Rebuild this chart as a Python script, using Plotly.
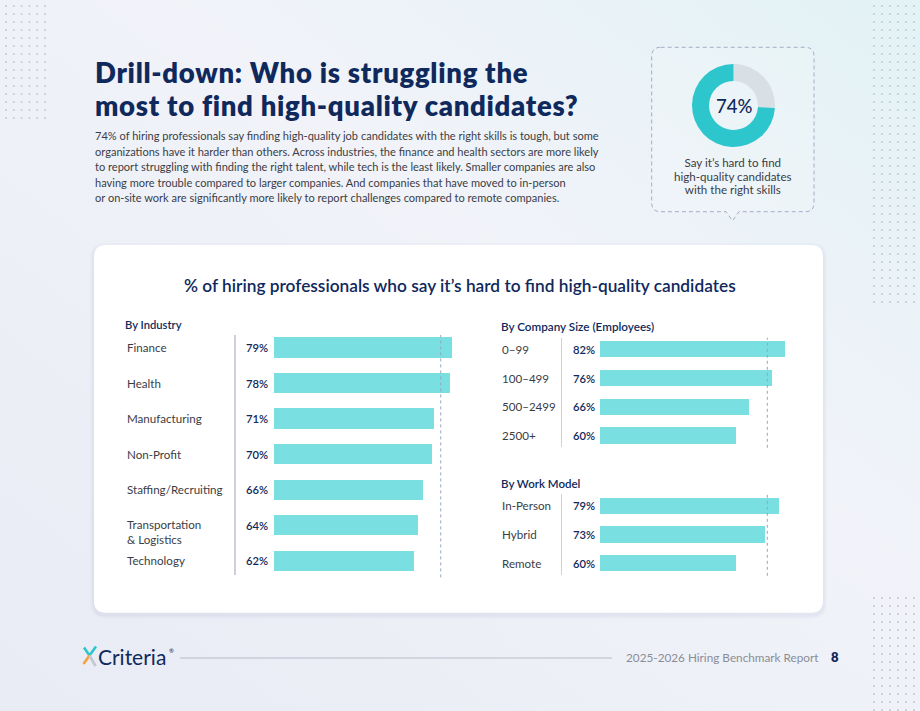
import base64
import plotly.graph_objects as go

W, H = 920, 711

# ---------------- data ----------------
industry_labels = ["Finance", "Health", "Manufacturing", "Non-Profit",
                   "Staffing/Recruiting", "Transportation<br>& Logistics", "Technology"]
industry_values = [79, 78, 71, 70, 66, 64, 62]

size_labels = ["0–99", "100–499", "500–2499", "2500+"]
size_values = [82, 76, 66, 60]

work_labels = ["In-Person", "Hybrid", "Remote"]
work_values = [79, 73, 60]

overall_value = 74
donut_labels = ["Other", "Say it's hard"]
donut_values = [26, 74]

title_lines = ["Drill-down: Who is struggling the",
               "most to find high-quality candidates?"]
para_lines = [
    "74% of hiring professionals say finding high-quality job candidates with the right skills is tough, but some",
    "organizations have it harder than others. Across industries, the finance and health sectors are more likely",
    "to report struggling with finding the right talent, while tech is the least likely. Smaller companies are also",
    "having more trouble compared to larger companies. And companies that have moved to in-person",
    "or on-site work are significantly more likely to report challenges compared to remote companies.",
]
donut_caption = ["Say it’s hard to find", "high-quality candidates", "with the right skills"]
chart_title = "% of hiring professionals who say it’s hard to find high-quality candidates"
footer_text = "2025-2026 Hiring Benchmark Report"
page_number = "8"

# ---------------- style ----------------
NAVY = "#10295c"
BODY = "#3b3d45"
BAR = "#79dfe1"
TEAL = "#2ec6cd"
DONUT_GRAY = "#d8dfe5"
AXIS_LINE = "#cdd1db"
DASH = "#98a5c4"
FONT = "Lato"

K = 2.257  # px per percentage point


def px(x):
    return x / W


def py(y):
    return 1 - y / H


def rounded_rect_path(x0, y0, x1, y1, r):
    rx, ry = r / W, r / H
    X0, X1 = px(x0), px(x1)
    Y0, Y1 = py(y0), py(y1)
    return (f"M {X0+rx},{Y0} L {X1-rx},{Y0} Q {X1},{Y0} {X1},{Y0-ry} "
            f"L {X1},{Y1+ry} Q {X1},{Y1} {X1-rx},{Y1} "
            f"L {X0+rx},{Y1} Q {X0},{Y1} {X0},{Y1+ry} "
            f"L {X0},{Y0-ry} Q {X0},{Y0} {X0+rx},{Y0} Z")


def callout_path(x0, y0, x1, y1, r, cx, pw, ph):
    rx, ry = r / W, r / H
    X0, X1 = px(x0), px(x1)
    Y0, Y1 = py(y0), py(y1)
    return (f"M {X0+rx},{Y0} L {X1-rx},{Y0} Q {X1},{Y0} {X1},{Y0-ry} "
            f"L {X1},{Y1+ry} Q {X1},{Y1} {X1-rx},{Y1} "
            f"L {px(cx+pw/2)},{Y1} L {px(cx)},{py(y1+ph)} L {px(cx-pw/2)},{Y1} "
            f"L {X0+rx},{Y1} Q {X0},{Y1} {X0},{Y1+ry} "
            f"L {X0},{Y0-ry} Q {X0},{Y0} {X0+rx},{Y0} Z")


fig = go.Figure()

# ---------------- bars ----------------
for xs, ys, xa, ya in [(industry_values, industry_labels, "x", "y"),
                       (size_values, size_labels, "x2", "y2"),
                       (work_values, work_labels, "x3", "y3")]:
    fig.add_trace(go.Bar(x=xs, y=ys, orientation="h", xaxis=xa, yaxis=ya, width=0.57,
                         marker=dict(color=BAR, line=dict(width=0)),
                         hoverinfo="skip", showlegend=False))

# ---------------- donut ----------------
fig.add_trace(go.Pie(values=donut_values, labels=donut_labels, hole=0.59, sort=False,
                     direction="clockwise", rotation=0,
                     marker=dict(colors=[DONUT_GRAY, TEAL], line=dict(width=0)),
                     textinfo="none", hoverinfo="skip", showlegend=False,
                     domain=dict(x=[px(692), px(775)], y=[py(147), py(64)])))

# ---------------- decorative dot grids ----------------
dx, dy = [], []
for c in range(6):
    for r in range(15):
        dx.append(6 + 7.8 * c); dy.append(6 + 8 * r)
for c in range(6):
    for r in range(38):
        dx.append(874 + 8 * c); dy.append(6 + 8 * r)
    for r in range(15):
        dx.append(874 + 8 * c); dy.append(598 + 8 * r)
fig.add_trace(go.Scatter(x=dx, y=dy, mode="markers", xaxis="x4", yaxis="y4",
                         marker=dict(size=2, symbol="square", color="#cfd3dd"),
                         hoverinfo="skip", showlegend=False))

# ---------------- axes ----------------
LEFT_AX, LEFT_BAR = 235.7, 273.7
RIGHT_AX, RIGHT_BAR = 562.3, 600.3
xmin_l = -(LEFT_BAR - LEFT_AX) / K
xmin_r = -(RIGHT_BAR - RIGHT_AX) / K

ycommon = dict(showline=True, linecolor=AXIS_LINE, linewidth=1.5, showticklabels=False,
               showgrid=False, zeroline=False, ticks="", fixedrange=True)

fig.update_layout(
    xaxis=dict(domain=[px(LEFT_AX), px(LEFT_BAR + 90 * K)], range=[xmin_l, 90],
               visible=False, anchor="y", fixedrange=True),
    yaxis=dict(domain=[py(575), py(335)], range=[6.402, -0.352], anchor="x",
               categoryorder="array", categoryarray=industry_labels, **ycommon),
    xaxis2=dict(domain=[px(RIGHT_AX), px(RIGHT_BAR + 95 * K)], range=[xmin_r, 95],
                visible=False, anchor="y2", fixedrange=True),
    yaxis2=dict(domain=[py(446.7), py(337.7)], range=[3.382, -0.399], anchor="x2",
                categoryorder="array", categoryarray=size_labels, **ycommon),
    xaxis3=dict(domain=[px(RIGHT_AX), px(RIGHT_BAR + 95 * K)], range=[xmin_r, 95],
                visible=False, anchor="y3", fixedrange=True),
    yaxis3=dict(domain=[py(575), py(494.3)], range=[2.407, -0.4], anchor="x3",
                categoryorder="array", categoryarray=work_labels, **ycommon),
    xaxis4=dict(domain=[0, 1], range=[0, W], visible=False, anchor="y4", fixedrange=True),
    yaxis4=dict(domain=[0, 1], range=[H, 0], visible=False, anchor="x4", fixedrange=True),
)

# ---------------- shapes ----------------
shapes = []
for grow, alpha in [(4, 0.025), (2, 0.035)]:
    shapes.append(dict(type="path", xref="paper", yref="paper", layer="below",
                       path=rounded_rect_path(94 - grow, 245 - grow + 2, 823 + grow, 612.7 + grow + 2, 12 + grow),
                       fillcolor=f"rgba(40,50,100,{alpha})", line=dict(width=0)))
shapes.append(dict(type="path", xref="paper", yref="paper", layer="below",
                   path=rounded_rect_path(94, 245, 823, 612.7, 12),
                   fillcolor="#ffffff", line=dict(width=0)))
shapes.append(dict(type="path", xref="paper", yref="paper", layer="below",
                   path=callout_path(651.7, 47.3, 814, 211.7, 9, 732.5, 13, 9),
                   fillcolor="rgba(255,255,255,0.15)",
                   line=dict(color="#a3adc6", width=1, dash="4px,3px")))
for xr, yr in [("x", "y domain"), ("x2", "y2 domain"), ("x3", "y3 domain")]:
    shapes.append(dict(type="line", xref=xr, yref=yr, x0=overall_value, x1=overall_value,
                       y0=-0.01, y1=1.0, layer="above",
                       line=dict(color=DASH, width=1, dash="3px,3px")))
shapes.append(dict(type="line", xref="paper", yref="paper", x0=px(180), x1=px(612),
                   y0=py(658), y1=py(658), line=dict(color="#b7bbc6", width=1)))
logo_strokes = [
    ((84, 647.5), (89.5, 655.5), "#2ec6cd"),
    ((89.5, 655.5), (96, 646.5), "#2ec6cd"),
    ((89.5, 655.5), (83.5, 664), "#f5a03a"),
    ((89.5, 655.5), (95.5, 666), "#c3c7cf"),
]
for (x0, y0), (x1, y1), col in logo_strokes:
    shapes.append(dict(type="line", xref="paper", yref="paper", x0=px(x0), y0=py(y0),
                       x1=px(x1), y1=py(y1), line=dict(color=col, width=2.6)))
fig.update_layout(shapes=shapes)

# ---------------- annotations ----------------
ann = []


def text(x, y, s, size, color, weight=400, xanchor="left", yanchor="middle", xref="paper", yref="paper"):
    ann.append(dict(x=x, y=y, xref=xref, yref=yref, text=s, showarrow=False,
                    xanchor=xanchor, yanchor=yanchor, align="center" if xanchor == "center" else xanchor,
                    font=dict(family=FONT, size=size, color=color, weight=weight)))


# title: base font sets the line spacing, spans carry the display size
title_html = "<br>".join(
    f"<span style='font-size:27.5px;letter-spacing:0.7px'>{t}</span>" for t in title_lines)
text(px(93), py(89), title_html, 25, NAVY, 800)

for i, line in enumerate(para_lines):
    text(px(93), py(135.5 + 15.5 * i), line, 11.05, BODY, 400)

text(px(733.5), py(105.5), f"{overall_value}%", 18.5, NAVY, 500, xanchor="center")
cap_html = "<br>".join(f"<span style='font-size:11.6px'>{t}</span>" for t in donut_caption)
text(px(733), py(175.5), cap_html, 10.4, BODY, 400, xanchor="center")

text(px(459.5), py(285.5), chart_title, 17.3, NAVY, 600, xanchor="center")

text(px(122.5), py(324), "By Industry", 11.2, NAVY, 600)
text(px(498.5), py(326), "By Company Size (Employees)", 11.7, NAVY, 600)
text(px(498.5), py(483), "By Work Model", 11.5, NAVY, 600)

for lab, val in zip(industry_labels, industry_values):
    shift = -7 if "<br>" in lab else 0
    ann.append(dict(x=px(124.7), y=lab, xref="paper", yref="y", text=lab, showarrow=False,
                    xanchor="left", yanchor="middle", align="left", yshift=shift,
                    font=dict(family=FONT, size=11.6, color=BODY)))
    ann.append(dict(x=(244 - LEFT_BAR) / K, y=lab, xref="x", yref="y", text=f"{val}%",
                    showarrow=False, xanchor="left", yanchor="middle",
                    font=dict(family=FONT, size=11.2, color=NAVY, weight=600)))
for labs, vals, xr, yr in [(size_labels, size_values, "x2", "y2"),
                           (work_labels, work_values, "x3", "y3")]:
    for lab, val in zip(labs, vals):
        ann.append(dict(x=px(499.5), y=lab, xref="paper", yref=yr, text=lab, showarrow=False,
                        xanchor="left", yanchor="middle",
                        font=dict(family=FONT, size=11.6, color=BODY)))
        ann.append(dict(x=(570.5 - RIGHT_BAR) / K, y=lab, xref=xr, yref=yr, text=f"{val}%",
                        showarrow=False, xanchor="left", yanchor="middle",
                        font=dict(family=FONT, size=11.2, color=NAVY, weight=600)))

# footer
text(px(96), py(656.5), "Criteria", 21, NAVY, 400)
text(px(167), py(650), "®", 6, NAVY, 400)
text(px(820.5), py(657.5), footer_text, 11.75, "#8a8d96", 400, xanchor="right")
text(px(834.5), py(657), page_number, 13, NAVY, 800, xanchor="center")

fig.update_layout(annotations=ann)

# ---------------- background ----------------
svg = (f'<svg xmlns="http://www.w3.org/2000/svg" width="{W}" height="{H}">'
       '<defs><linearGradient id="g" x1="1" y1="0" x2="0" y2="1">'
       '<stop offset="0" stop-color="#e2f2f5"/><stop offset="0.4" stop-color="#f1f3f9"/>'
       '<stop offset="1" stop-color="#e9ebf5"/></linearGradient></defs>'
       f'<rect width="{W}" height="{H}" fill="url(#g)"/></svg>')
bg_src = "data:image/svg+xml;base64," + base64.b64encode(svg.encode()).decode()
fig.update_layout(images=[dict(source=bg_src, xref="paper", yref="paper", x=0, y=1,
                               sizex=1, sizey=1, sizing="stretch", layer="below",
                               xanchor="left", yanchor="top")])

fig.update_layout(width=W, height=H, margin=dict(l=0, r=0, t=0, b=0),
                  paper_bgcolor="#eff1f8", plot_bgcolor="rgba(0,0,0,0)",
                  bargap=0, showlegend=False, font=dict(family=FONT))

fig.write_html("out.html", config=dict(displayModeBar=False, staticPlot=True))
